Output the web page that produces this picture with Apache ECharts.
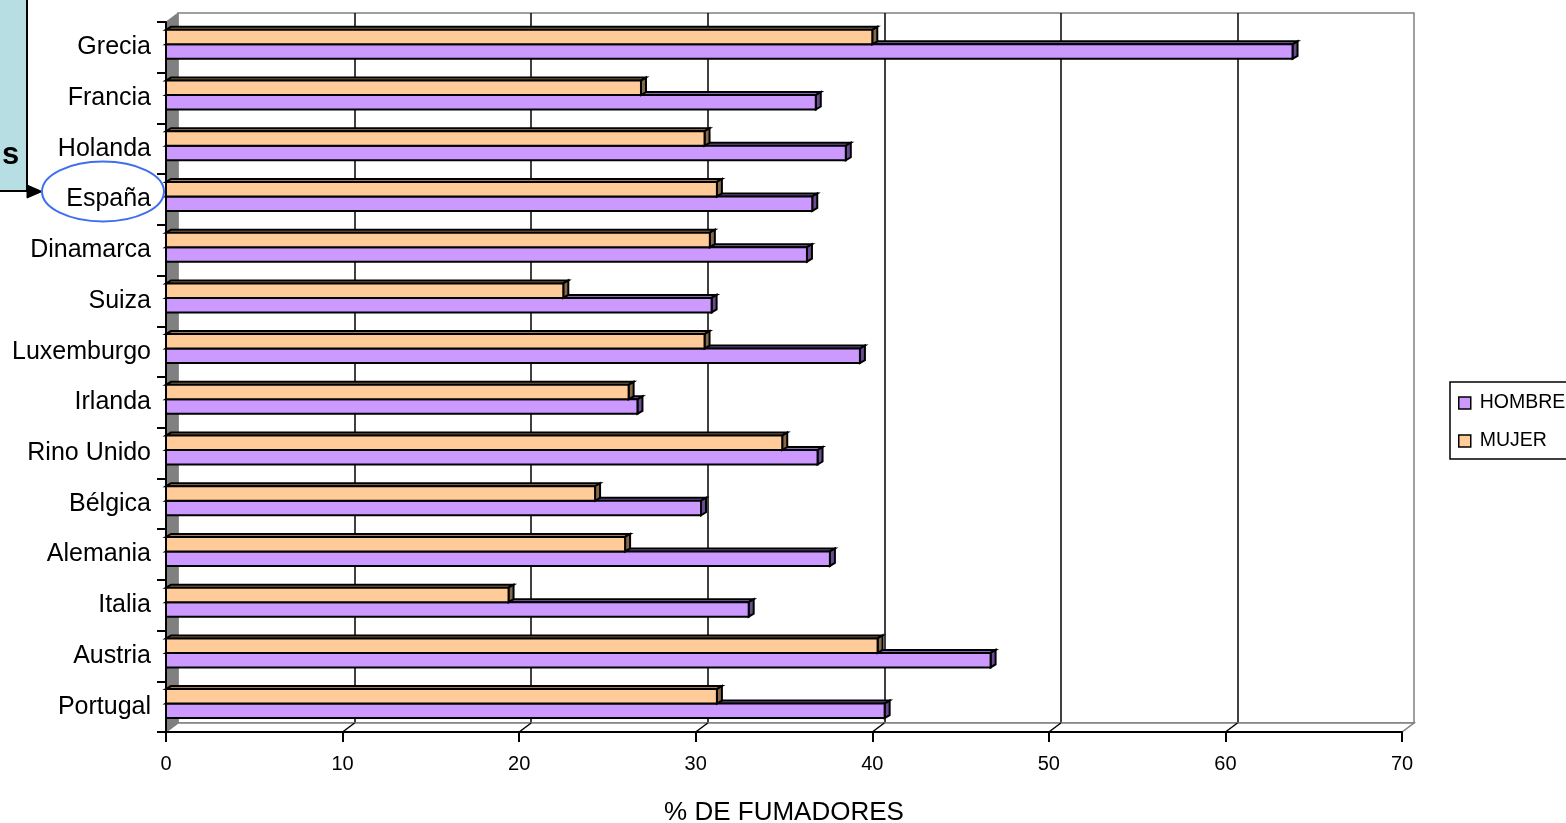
<!DOCTYPE html>
<html>
<head>
<meta charset="utf-8">
<script src="https://cdn.jsdelivr.net/npm/echarts@6/dist/echarts.min.js"></script>
<style>
html,body{margin:0;padding:0;background:#fff;}
#chart{width:1566px;height:823px;}
</style>
</head>
<body>
<div id="chart"></div>
<script>
// ---- data ----
const categories = ['Grecia','Francia','Holanda','España','Dinamarca','Suiza','Luxemburgo','Irlanda','Rino Unido','Bélgica','Alemania','Italia','Austria','Portugal'];
const hombre = [63.8, 36.8, 38.5, 36.6, 36.3, 30.9, 39.3, 26.7, 36.9, 30.3, 37.6, 33.0, 46.7, 40.7];
const mujer  = [40.0, 26.9, 30.5, 31.2, 30.8, 22.5, 30.5, 26.2, 34.9, 24.3, 26.0, 19.4, 40.3, 31.2];
const xMin = 0, xMax = 70, xInterval = 10;
const seriesNames = ['HOMBRE', 'MUJER'];
const axisTitle = '% DE FUMADORES';

// ---- layout / style ----
const FONT = "'Liberation Sans', Arial, sans-serif";
const FRONT = {left: 166, top: 22, width: 1236, height: 710};
const DEPTH = {dx: 12, dy: -9};
const BAR_DEPTH = {dx: 5, dy: -3};
const COLORS = {
  HOMBRE: {front: '#CC99FF', top: '#8A6BBA', side: '#6A4C92'},
  MUJER:  {front: '#FFCC99', top: '#A3805B', side: '#876848'}
};

const chart = echarts.init(document.getElementById('chart'), null, {renderer: 'canvas'});

function makeRender(name) {
  const c = COLORS[name];
  return function (params, api) {
    const val = api.value(0), cat = api.value(1);
    const p0 = api.coord([0, cat]);
    const p1 = api.coord([val, cat]);
    const band = api.size([0, 1])[1];
    const h = band * 0.286;
    const shift = band * 0.06;
    let yTop = name === 'MUJER' ? p0[1] - shift - h : p0[1] - shift;
    const yBot = yTop + h;
    const x0 = p0[0], x1 = p1[0];
    const dx = BAR_DEPTH.dx, dy = BAR_DEPTH.dy;
    const stroke = {stroke: '#000', lineWidth: 2, lineJoin: 'miter'};
    return {
      type: 'group',
      children: [
        {type: 'polygon', shape: {points: [[x0, yTop], [x1, yTop], [x1 + dx, yTop + dy], [x0 + dx, yTop + dy]]},
         style: Object.assign({fill: c.top}, stroke)},
        {type: 'polygon', shape: {points: [[x1, yTop], [x1 + dx, yTop + dy], [x1 + dx, yBot + dy], [x1, yBot]]},
         style: Object.assign({fill: c.side}, stroke)},
        {type: 'rect', shape: {x: x0, y: yTop, width: x1 - x0, height: h},
         style: Object.assign({fill: c.front}, stroke)}
      ]
    };
  };
}

const option = {
  animation: false,
  backgroundColor: '#fff',
  textStyle: {fontFamily: FONT},
  color: [COLORS.HOMBRE.front, COLORS.MUJER.front],
  grid: [
    {left: FRONT.left, top: FRONT.top, width: FRONT.width, height: FRONT.height,
     containLabel: false, outerBoundsMode: 'none'},
    {left: FRONT.left + DEPTH.dx, top: FRONT.top + DEPTH.dy, width: FRONT.width, height: FRONT.height,
     containLabel: false, outerBoundsMode: 'none',
     show: true, borderColor: '#808080', borderWidth: 1.5, backgroundColor: 'transparent'}
  ],
  xAxis: [
    {gridIndex: 0, type: 'value', min: xMin, max: xMax, interval: xInterval, z: 5,
     axisLine: {show: true, lineStyle: {color: '#000', width: 2}},
     axisTick: {show: true, length: 10, lineStyle: {color: '#000', width: 2}},
     axisLabel: {color: '#000', fontSize: 20, margin: 22, fontFamily: FONT},
     splitLine: {show: false},
     name: axisTitle, nameLocation: 'middle', nameGap: 68,
     nameTextStyle: {color: '#000', fontSize: 26, fontFamily: FONT}},
    {gridIndex: 1, type: 'value', min: xMin, max: xMax, interval: xInterval,
     axisLine: {show: false}, axisTick: {show: false}, axisLabel: {show: false},
     splitLine: {show: true, showMinLine: false, showMaxLine: false, lineStyle: {color: '#000', width: 1.5}}}
  ],
  yAxis: [
    {gridIndex: 0, type: 'category', data: categories, inverse: true, z: 5,
     axisLine: {show: true, lineStyle: {color: '#000', width: 2}},
     axisTick: {show: true, length: 9, lineStyle: {color: '#000', width: 2}},
     axisLabel: {color: '#000', fontSize: 25, margin: 15, fontFamily: FONT},
     splitLine: {show: false}},
    {gridIndex: 1, type: 'category', data: categories, inverse: true,
     axisLine: {show: false}, axisTick: {show: false}, axisLabel: {show: false}, splitLine: {show: false}}
  ],
  legend: {
    data: seriesNames,
    orient: 'vertical', left: 1450, top: 382,
    borderColor: '#000', borderWidth: 1.5, padding: [11, 8, 8, 8],
    itemWidth: 12, itemHeight: 12, itemGap: 18, icon: 'rect',
    itemStyle: {borderColor: '#000', borderWidth: 1.5},
    textStyle: {color: '#000', fontSize: 19.5, fontFamily: FONT, padding: [0, 0, 0, 4]},
    selectedMode: false
  },
  series: [
    {name: 'HOMBRE', type: 'custom', xAxisIndex: 0, yAxisIndex: 0,
     itemStyle: {color: COLORS.HOMBRE.front},
     renderItem: makeRender('HOMBRE'), encode: {x: 0, y: 1},
     data: hombre.map((v, i) => [v, i])},
    {name: 'MUJER', type: 'custom', xAxisIndex: 0, yAxisIndex: 0,
     itemStyle: {color: COLORS.MUJER.front},
     renderItem: makeRender('MUJER'), encode: {x: 0, y: 1},
     data: mujer.map((v, i) => [v, i])}
  ]
};
chart.setOption(option);

// ---- 3D walls, floor, annotation ----
const L = FRONT.left, T = FRONT.top, R = FRONT.left + FRONT.width, B = FRONT.top + FRONT.height;
const dx = DEPTH.dx, dy = DEPTH.dy;
const graphics = [
  {type: 'polygon', z: 1, shape: {points: [[L, B], [R, B], [R + dx, B + dy], [L + dx, B + dy]]},
   style: {fill: '#fff', stroke: '#808080', lineWidth: 1.5}},
  {type: 'polygon', z: 1, shape: {points: [[L, T], [L + dx, T + dy], [L + dx, B + dy], [L, B]]},
   style: {fill: '#808080', stroke: '#808080', lineWidth: 1}}
];
for (let v = xMin + xInterval; v < xMax; v += xInterval) {
  const x = chart.convertToPixel({xAxisIndex: 0}, v);
  graphics.push({type: 'line', z: 1, shape: {x1: x, y1: B, x2: x + dx, y2: B + dy},
    style: {stroke: '#000', lineWidth: 1.5}});
}
graphics.push(
  {type: 'rect', z: 10, shape: {x: -5, y: -5, width: 32, height: 196},
   style: {fill: '#B7DEE2', stroke: '#000', lineWidth: 2}},
  {type: 'text', z: 11, style: {text: 's', x: 2, y: 155, verticalAlign: 'middle',
   font: "bold 31px " + FONT, fill: '#000'}},
  {type: 'polygon', z: 11, shape: {points: [[27, 185], [42, 191.5], [27, 198]]},
   style: {fill: '#000', stroke: '#000', lineWidth: 1}},
  {type: 'ellipse', z: 11, shape: {cx: 103, cy: 191.5, rx: 61, ry: 30},
   style: {fill: 'none', stroke: '#3F6FEF', lineWidth: 2}}
);
chart.setOption({graphic: graphics});
</script>
</body>
</html>
